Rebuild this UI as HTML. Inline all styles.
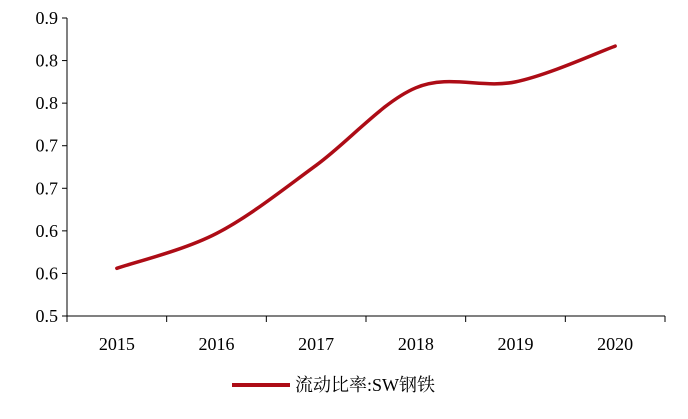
<!DOCTYPE html>
<html><head><meta charset="utf-8"><style>
body{margin:0;background:#fff;}
svg text{font-family:"Liberation Serif","Noto Serif CJK SC",serif;font-size:18px;fill:#000;}
</style></head><body>
<svg width="688" height="414" xmlns="http://www.w3.org/2000/svg" id="c"></svg>
<script>
const categories=["2015","2016","2017","2018","2019","2020"];
const seriesValues=[0.556,0.597,0.677,0.768,0.775,0.817];
const yTicks=[0.5,0.55,0.6,0.65,0.7,0.75,0.8,0.85];
const yTickLabels=["0.5","0.6","0.6","0.7","0.7","0.8","0.8","0.9"];
const svg=document.getElementById('c');
const NS="http://www.w3.org/2000/svg";
const L=67,R=665,T=18,B=316,yMin=0.5,yMax=0.85;
const band=(R-L)/categories.length;
const x=i=>L+band*(i+0.5);
const y=v=>B-(v-yMin)/(yMax-yMin)*(B-T);
function mk(t,a,p){const e=document.createElementNS(NS,t);for(const k in a)e.setAttribute(k,a[k]);(p||svg).appendChild(e);return e;}
let ax=mk('line',{x1:L,y1:T,x2:L,y2:B,stroke:'#000','stroke-width':1});


let xa=mk('line',{x1:L,y1:B,x2:R,y2:B,stroke:'#000','stroke-width':1});


yTicks.forEach((v,i)=>{
  mk('line',{x1:L-5,y1:y(v),x2:L,y2:y(v),stroke:'#000'});
  const t=mk('text',{x:L-9,y:y(v)+6,'text-anchor':'end'});t.textContent=yTickLabels[i];
  
  
});
for(let i=0;i<=categories.length;i++){mk('line',{x1:L+band*i,y1:B,x2:L+band*i,y2:B+6,stroke:'#000'});}
categories.forEach((c,i)=>{
  const t=mk('text',{x:x(i),y:B+34,'text-anchor':'middle'});t.textContent=c;
  
  
});
const pts=seriesValues.map((v,i)=>[x(i),y(v)]);
let d=`M${pts[0][0]},${pts[0][1]}`;
for(let i=0;i<pts.length-1;i++){
  const p0=pts[Math.max(0,i-1)],p1=pts[i],p2=pts[i+1],p3=pts[Math.min(pts.length-1,i+2)];
  const c1=[p1[0]+(p2[0]-p0[0])/6,p1[1]+(p2[1]-p0[1])/6];
  const c2=[p2[0]-(p3[0]-p1[0])/6,p2[1]-(p3[1]-p1[1])/6];
  d+=` C${c1[0]},${c1[1]} ${c2[0]},${c2[1]} ${p2[0]},${p2[1]}`;
}
const line=mk('path',{d:d,fill:'none',stroke:'#ad0c16','stroke-width':3.5,'stroke-linecap':'round'});


const lg=mk('g',{});


mk('line',{x1:232,y1:385,x2:290,y2:385,stroke:'#ad0c16','stroke-width':4},lg);
const lt=mk('text',{x:295,y:391},lg);lt.textContent="流动比率:SW钢铁";
</script>
</body></html>
